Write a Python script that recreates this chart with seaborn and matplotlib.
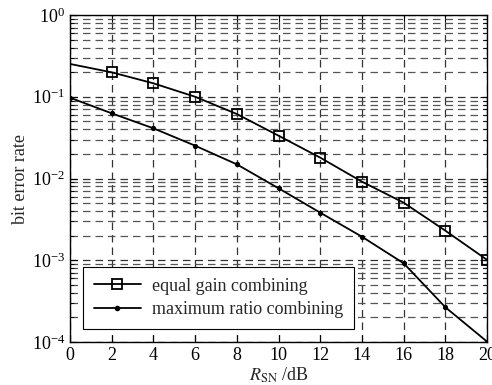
import numpy as np
import pandas as pd
import matplotlib
matplotlib.use("Agg")
import matplotlib.pyplot as plt
import seaborn as sns
from matplotlib.ticker import LogLocator, LogFormatterMathtext, NullFormatter
from matplotlib.lines import Line2D

snr_db = [0, 2, 4, 6, 8, 10, 12, 14, 16, 18, 20]
egc_ber = [0.252, 0.199, 0.146, 0.100, 0.0615, 0.0334, 0.0180, 0.00914, 0.00506, 0.0023, 0.00101]
mrc_ber = [0.0974, 0.0627, 0.0411, 0.0252, 0.0149, 0.00759, 0.00382, 0.00194, 0.000918, 0.000266, 0.000101]
series_names = ["equal gain combining", "maximum ratio combining"]
x_ticks = [0, 2, 4, 6, 8, 10, 12, 14, 16, 18, 20]

sns.set_style("ticks")
plt.rcParams['font.family'] = ['Liberation Serif', 'DejaVu Serif']
plt.rcParams['mathtext.fontset'] = 'stix'
plt.rcParams['font.size'] = 12

df = pd.DataFrame({
    "snr": snr_db * 2,
    "ber": egc_ber + mrc_ber,
    "series": [series_names[0]] * len(snr_db) + [series_names[1]] * len(snr_db),
})

fig = plt.figure(figsize=(4.92, 3.85), dpi=100)
ax = fig.add_axes([0.1423, 0.1117, 0.8477, 0.8493])

sns.lineplot(data=df, x="snr", y="ber", hue="series", style="series",
             markers={series_names[0]: "s", series_names[1]: "o"},
             dashes=False, palette=["black", "black"], ax=ax, legend=False,
             linewidth=1.3)

lines = ax.get_lines()
lines[0].set_markersize(7.5)
lines[0].set_markerfacecolor("none")
lines[0].set_markeredgecolor("black")
lines[0].set_markeredgewidth(1.3)
lines[0].set_markevery(list(range(1, len(snr_db))))
lines[1].set_markersize(3)
lines[1].set_markerfacecolor("black")
lines[1].set_markeredgecolor("black")

ax.set_yscale("log")
ax.set_ylim(1e-4, 1)
ax.set_xlim(0, 20)
ax.set_xticks(x_ticks)
ax.yaxis.set_major_locator(LogLocator(base=10, numticks=10))
ax.yaxis.set_minor_locator(LogLocator(base=10, subs=np.arange(2, 10), numticks=100))
ax.yaxis.set_major_formatter(LogFormatterMathtext())
ax.yaxis.set_minor_formatter(NullFormatter())

dash = (0, (6, 4))
ax.grid(True, which="major", axis="both", color="#333333", linestyle=dash, linewidth=0.9)
ax.grid(True, which="minor", axis="y", color="#555555", linestyle=dash, linewidth=0.9)

ax.tick_params(which="both", direction="in", top=True, right=True, labelsize=13, colors="black")
ax.tick_params(which="major", length=5)
ax.tick_params(which="minor", length=3)
for s in ax.spines.values():
    s.set_visible(True)
    s.set_color("black")
    s.set_linewidth(1.0)

ax.set_xlabel(r"$R_{\mathrm{SN}}$ /dB", fontsize=13, labelpad=1)
ax.set_ylabel("bit error rate", fontsize=13, labelpad=2)

handles = [
    Line2D([], [], color="black", lw=1.3, marker="s", markersize=7.5, markerfacecolor="none", markeredgewidth=1.3),
    Line2D([], [], color="black", lw=1.3, marker="o", markersize=3),
]
leg = ax.legend(handles, series_names, loc="lower left", bbox_to_anchor=(0.031, 0.04),
                borderaxespad=0, fontsize=13, frameon=True, fancybox=False, edgecolor="black",
                framealpha=1, handlelength=2.6, handletextpad=0.6, borderpad=0.6, labelspacing=0.35)
leg.get_frame().set_linewidth(0.8)

fig.savefig("out.png", dpi=100)
